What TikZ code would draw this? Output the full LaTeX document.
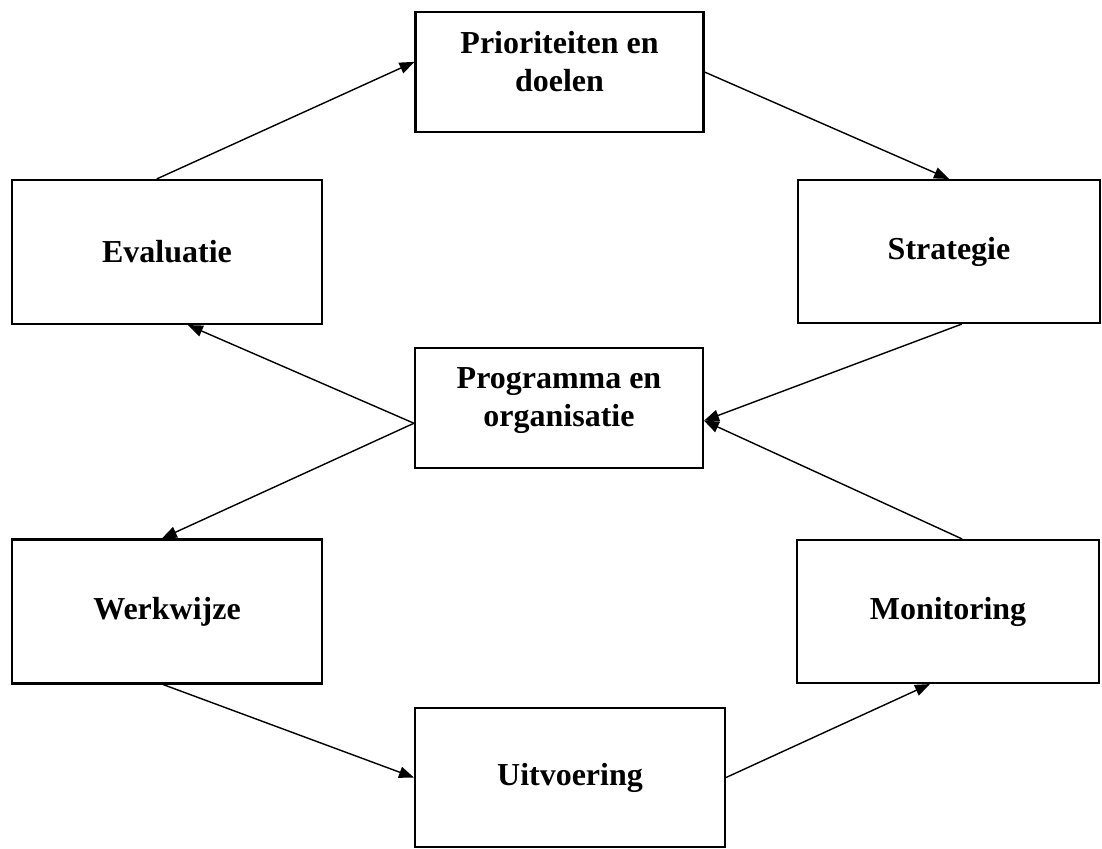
\documentclass[tikz,border=0pt]{standalone}
\usepackage{fontspec}
\setmainfont{Liberation Serif}
\usetikzlibrary{arrows.meta}
\tikzset{
    stepnode/.style={draw,rectangle,line width=1.2pt,inner sep=0pt,align=center,font=\bfseries\fontsize{18.2}{21.6}\selectfont},
    midnode/.style={stepnode,minimum width=5.76cm,minimum height=2.40cm,text depth=0.44cm},
    leftnode/.style={stepnode,minimum width=6.20cm,minimum height=2.88cm},
    rightnode/.style={stepnode,minimum width=6.04cm,minimum height=2.86cm}
}
\begin{document}
\begin{tikzpicture}[->,>={Triangle[length=8.5pt,width=6.5pt]},line width=0.8pt]
\useasboundingbox (0,0) rectangle (22.04,-16.96);

\node[midnode]   (prio)  at (11.19,-1.44)  {Prioriteiten en\\doelen};
\node[leftnode]  (eval)  at (3.34,-5.04)   {Evaluatie};
\node[rightnode] (strat) at (18.98,-5.03)  {Strategie};
\node[midnode]   (prog)  at (11.18,-8.16)  {Programma en\\organisatie};
\node[leftnode]  (werk)  at (3.34,-12.23)  {Werkwijze};
\node[rightnode] (moni)  at (18.96,-12.23) {Monitoring};
\node[leftnode,minimum height=2.78cm] (uitv) at (11.40,-15.55) {Uitvoering};

\path
(eval.98)   edge (prio.176)
(prio.east) edge (strat.north)
(strat.280) edge (prog.355)
(moni.79)   edge (prog.355)
(prog.186)  edge (eval.286)
            edge (werk.94)
(werk.267)  edge (uitv.west)
(uitv.east) edge (moni.256)
;
\end{tikzpicture}
\end{document}
